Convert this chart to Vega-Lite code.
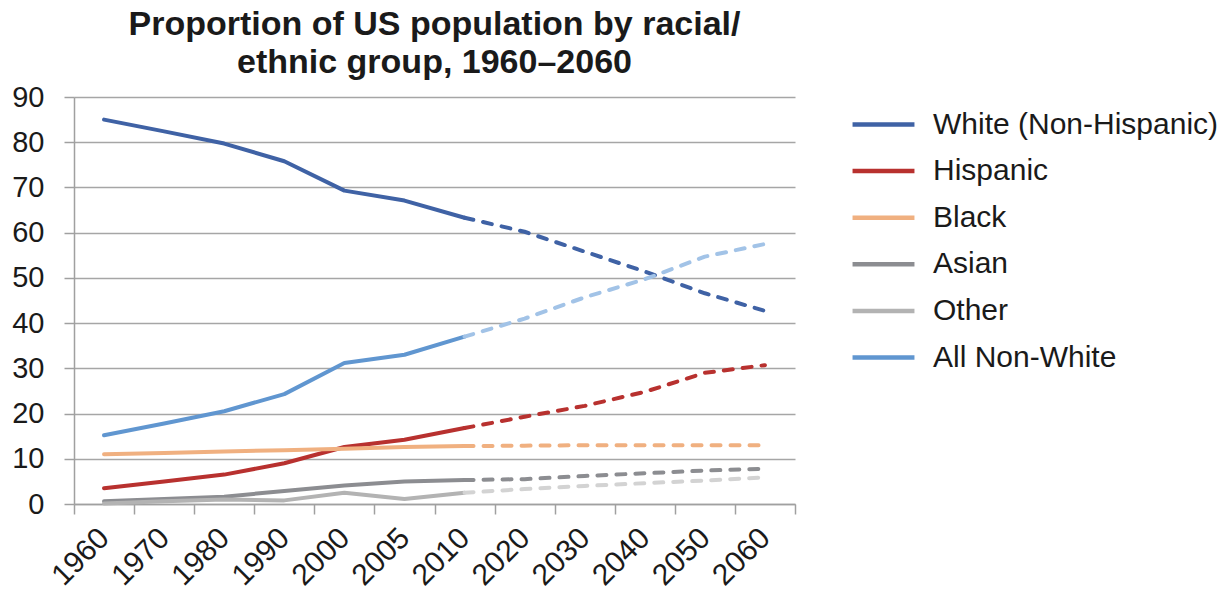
{
  "$schema": "https://vega.github.io/schema/vega-lite/v6.json",
  "width": 721,
  "height": 407,
  "autosize": {"type": "none"},
  "padding": {"left": 74, "top": 97, "right": 432, "bottom": 86},
  "background": "white",
  "title": {
    "text": ["Proportion of US population by racial/", "ethnic group, 1960–2060"],
    "font": "Liberation Sans",
    "fontSize": 34,
    "fontWeight": "bold",
    "lineHeight": 38,
    "color": "#1a1a1a",
    "anchor": "middle",
    "offset": 3
  },
  "data": {
    "values": [
      {"year": "1960", "group": "White (Non-Hispanic)", "value": 85.0},
      {"year": "1970", "group": "White (Non-Hispanic)", "value": 82.4},
      {"year": "1980", "group": "White (Non-Hispanic)", "value": 79.7},
      {"year": "1990", "group": "White (Non-Hispanic)", "value": 75.8},
      {"year": "2000", "group": "White (Non-Hispanic)", "value": 69.3},
      {"year": "2005", "group": "White (Non-Hispanic)", "value": 67.1},
      {"year": "2010", "group": "White (Non-Hispanic)", "value": 63.3},
      {"year": "2020", "group": "White (Non-Hispanic)", "value": 60.2},
      {"year": "2030", "group": "White (Non-Hispanic)", "value": 55.8},
      {"year": "2040", "group": "White (Non-Hispanic)", "value": 51.4},
      {"year": "2050", "group": "White (Non-Hispanic)", "value": 46.6},
      {"year": "2060", "group": "White (Non-Hispanic)", "value": 42.7},
      {"year": "1960", "group": "Hispanic", "value": 3.5},
      {"year": "1970", "group": "Hispanic", "value": 5.0},
      {"year": "1980", "group": "Hispanic", "value": 6.5},
      {"year": "1990", "group": "Hispanic", "value": 9.0},
      {"year": "2000", "group": "Hispanic", "value": 12.6},
      {"year": "2005", "group": "Hispanic", "value": 14.2},
      {"year": "2010", "group": "Hispanic", "value": 16.8},
      {"year": "2020", "group": "Hispanic", "value": 19.3},
      {"year": "2030", "group": "Hispanic", "value": 21.7},
      {"year": "2040", "group": "Hispanic", "value": 24.8},
      {"year": "2050", "group": "Hispanic", "value": 29.0},
      {"year": "2060", "group": "Hispanic", "value": 30.7},
      {"year": "1960", "group": "Black", "value": 11.0},
      {"year": "1970", "group": "Black", "value": 11.3},
      {"year": "1980", "group": "Black", "value": 11.6},
      {"year": "1990", "group": "Black", "value": 11.9},
      {"year": "2000", "group": "Black", "value": 12.2},
      {"year": "2005", "group": "Black", "value": 12.6},
      {"year": "2010", "group": "Black", "value": 12.8},
      {"year": "2020", "group": "Black", "value": 12.9},
      {"year": "2030", "group": "Black", "value": 13.0},
      {"year": "2040", "group": "Black", "value": 13.0},
      {"year": "2050", "group": "Black", "value": 13.0},
      {"year": "2060", "group": "Black", "value": 13.0},
      {"year": "1960", "group": "Asian", "value": 0.6},
      {"year": "1970", "group": "Asian", "value": 1.1},
      {"year": "1980", "group": "Asian", "value": 1.6},
      {"year": "1990", "group": "Asian", "value": 2.9},
      {"year": "2000", "group": "Asian", "value": 4.1},
      {"year": "2005", "group": "Asian", "value": 5.0},
      {"year": "2010", "group": "Asian", "value": 5.3},
      {"year": "2020", "group": "Asian", "value": 5.5},
      {"year": "2030", "group": "Asian", "value": 6.2},
      {"year": "2040", "group": "Asian", "value": 6.8},
      {"year": "2050", "group": "Asian", "value": 7.4},
      {"year": "2060", "group": "Asian", "value": 7.8},
      {"year": "1960", "group": "Other", "value": 0.1},
      {"year": "1970", "group": "Other", "value": 0.6},
      {"year": "1980", "group": "Other", "value": 1.0},
      {"year": "1990", "group": "Other", "value": 0.8},
      {"year": "2000", "group": "Other", "value": 2.5},
      {"year": "2005", "group": "Other", "value": 1.1},
      {"year": "2010", "group": "Other", "value": 2.5},
      {"year": "2020", "group": "Other", "value": 3.3},
      {"year": "2030", "group": "Other", "value": 4.0},
      {"year": "2040", "group": "Other", "value": 4.6},
      {"year": "2050", "group": "Other", "value": 5.2},
      {"year": "2060", "group": "Other", "value": 5.9},
      {"year": "1960", "group": "All Non-White", "value": 15.2},
      {"year": "1970", "group": "All Non-White", "value": 17.8},
      {"year": "1980", "group": "All Non-White", "value": 20.5},
      {"year": "1990", "group": "All Non-White", "value": 24.3},
      {"year": "2000", "group": "All Non-White", "value": 31.2},
      {"year": "2005", "group": "All Non-White", "value": 33.0},
      {"year": "2010", "group": "All Non-White", "value": 37.0},
      {"year": "2020", "group": "All Non-White", "value": 41.0},
      {"year": "2030", "group": "All Non-White", "value": 45.7},
      {"year": "2040", "group": "All Non-White", "value": 49.7},
      {"year": "2050", "group": "All Non-White", "value": 54.7},
      {"year": "2060", "group": "All Non-White", "value": 57.5}
    ]
  },
  "encoding": {
    "x": {
      "field": "year",
      "type": "ordinal",
      "scale": {"type": "band", "paddingInner": 0, "paddingOuter": 0},
      "axis": {
        "title": null,
        "labelAngle": -45,
        "labelAlign": "right",
        "labelBaseline": "middle",
        "labelFont": "Liberation Sans",
        "labelFontSize": 30,
        "labelColor": "#1a1a1a",
        "labelPadding": 19,
        "labelOverlap": false,
        "tickBand": "extent",
        "tickSize": 10,
        "tickColor": "#A0A0A0",
        "tickWidth": 1.5,
        "domainColor": "#A0A0A0",
        "domainWidth": 1.5,
        "grid": false
      }
    },
    "y": {
      "field": "value",
      "type": "quantitative",
      "scale": {"domain": [0, 90], "nice": false},
      "axis": {
        "title": null,
        "values": [0, 10, 20, 30, 40, 50, 60, 70, 80, 90],
        "labelFont": "Liberation Sans",
        "labelFontSize": 29,
        "labelColor": "#1a1a1a",
        "labelPadding": 20,
        "tickSize": 10,
        "tickColor": "#A0A0A0",
        "tickWidth": 1.5,
        "domainColor": "#A0A0A0",
        "domainWidth": 1.5,
        "grid": true,
        "gridColor": "#A6A6A6",
        "gridWidth": 1.5
      }
    }
  },
  "layer": [
    {
      "transform": [{"filter": "toNumber(datum.year) <= 2010"}],
      "mark": {"type": "line", "strokeWidth": 4, "strokeCap": "round", "strokeJoin": "round"},
      "encoding": {
        "color": {
          "field": "group",
          "type": "nominal",
          "scale": {
            "domain": ["White (Non-Hispanic)", "Hispanic", "Black", "Asian", "Other", "All Non-White"],
            "range": ["#3F62A5", "#B8312F", "#F0B080", "#8C8D91", "#B3B3B3", "#6096D0"]
          },
          "legend": {
            "title": null,
            "orient": "none",
            "legendX": 789,
            "legendY": 7,
            "symbolType": "M-1.72,0H1.72",
            "symbolSize": 1296,
            "symbolStrokeWidth": 4.5,
            "labelFont": "Liberation Sans",
            "labelFontSize": 30,
            "labelColor": "#1a1a1a",
            "labelOffset": 29,
            "labelLimit": 400,
            "rowPadding": 10.6,
            "padding": 0
          }
        }
      }
    },
    {
      "transform": [{"filter": "toNumber(datum.year) >= 2010"}],
      "mark": {"type": "line", "strokeWidth": 4, "strokeCap": "round", "strokeJoin": "round", "strokeDash": [9, 10]},
      "encoding": {
        "color": {
          "field": "group",
          "type": "nominal",
          "scale": {
            "domain": ["White (Non-Hispanic)", "Hispanic", "Black", "Asian", "Other", "All Non-White"],
            "range": ["#3F62A5", "#B8312F", "#F0B080", "#8C8D91", "#D3D3D3", "#A2C3E7"]
          },
          "legend": null
        }
      }
    }
  ],
  "resolve": {"scale": {"color": "independent"}},
  "config": {"view": {"stroke": null}, "font": "Liberation Sans"}
}
